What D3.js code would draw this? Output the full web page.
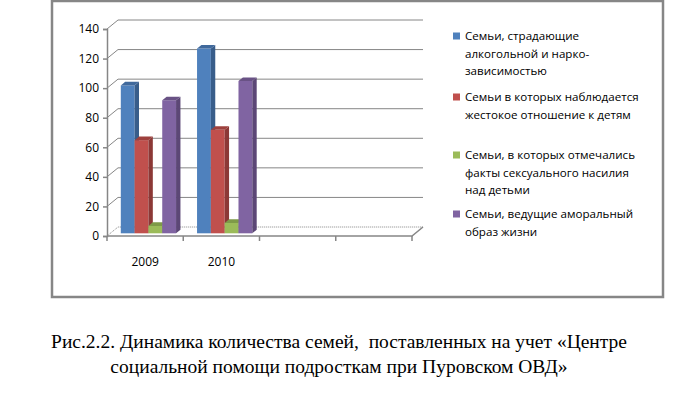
<!DOCTYPE html>
<html>
<head>
<meta charset="utf-8">
<script src="https://cdn.jsdelivr.net/npm/d3@7"></script>
<style>
  body { margin: 0; background: #fff; }
  svg { display: block; }
</style>
</head>
<body>
<svg id="chart" width="680" height="396"></svg>
<script>
// data
const categories = ['2009', '2010', '', ''];
const alcohol = [100, 125];
const cruelty = [63, 70];
const sexual = [5, 7];
const amoral = [90, 103];
const yTicks = [0, 20, 40, 60, 80, 100, 120, 140];
const seriesNames = [
  ['Семьи, страдающие', 'алкогольной и нарко-', 'зависимостью'],
  ['Семьи в которых наблюдается', 'жестокое отношение к детям'],
  ['Семьи, в которых отмечались', 'факты сексуального насилия', 'над детьми'],
  ['Семьи, ведущие аморальный', 'образ жизни']
];
const caption = [
  'Рис.2.2. Динамика количества семей,  поставленных на учет «Центре',
  'социальной помощи подросткам при Пуровском ОВД»'
];

const series = [alcohol, cruelty, sexual, amoral];
const colors = ['#4F81BD', '#C0504D', '#9BBB59', '#8064A2'];
const sideColors = ['#385D8A', '#8C3836', '#71893F', '#5C4776'];
const topColors = ['#40699C', '#9E403D', '#7E9A48', '#695285'];

const svg = d3.select('#chart');
const grid = '#868686';
const axisFont = '"Open Sans", sans-serif';

// chart frame
svg.append('rect')
  .attr('x', 52).attr('y', 1)
  .attr('width', 611).attr('height', 296)
  .attr('fill', 'none')
  .attr('stroke', grid)
  .attr('stroke-width', 2.5);

// front plane scales
const x = d3.scaleBand()
  .domain(d3.range(categories.length))
  .range([107, 412]);

const y = d3.scaleLinear()
  .domain([0, 140])
  .range([236, 29]);

const depthX = 11, depthY = -9;

// walls: gridlines bent along the left wall
const g = svg.append('g');
yTicks.forEach(v => {
  const yy = y(v);
  g.append('path')
    .attr('d', `M107,${yy}L${107 + depthX},${yy + depthY}L${412 + depthX},${yy + depthY}`)
    .attr('fill', 'none')
    .attr('stroke', grid)
    .attr('stroke-width', 1)
    .attr('stroke-dasharray', v === 0 ? '1,1' : null);
});

// floor front edge
g.append('path')
  .attr('d', `M107,${y(0)}L412,${y(0)}L${412 + depthX},${y(0) + depthY}`)
  .attr('fill', 'none')
  .attr('stroke', grid)
  .attr('stroke-width', 1.5);

// y axis
const yAxis = d3.axisLeft(y).tickValues(yTicks).tickSize(4).tickPadding(4);
const ya = svg.append('g')
  .attr('transform', 'translate(107,0)')
  .call(yAxis);
ya.select('.domain').attr('stroke', grid).attr('stroke-width', 1.5);
ya.selectAll('.tick line').attr('stroke', grid).attr('stroke-width', 1.5);
ya.selectAll('.tick text')
  .attr('font-family', axisFont)
  .attr('font-size', 12)
  .attr('fill', '#000');

// x axis
const xAxis = d3.axisBottom(x).tickSize(0).tickPadding(21)
  .tickFormat(i => categories[i]);
const xa = svg.append('g')
  .attr('transform', `translate(0,${y(0)})`)
  .call(xAxis);
xa.select('.domain').remove();
xa.selectAll('.tick text')
  .attr('font-family', axisFont)
  .attr('font-size', 12)
  .attr('fill', '#000');
xa.selectAll('.cat-tick')
  .data(d3.range(categories.length + 1))
  .enter()
  .append('line')
  .attr('x1', i => 107 + i * x.step())
  .attr('x2', i => 107 + i * x.step())
  .attr('y1', 0).attr('y2', 5)
  .attr('stroke', grid)
  .attr('stroke-width', 1.5);

// bars, set into the middle of the depth
const sub = d3.scaleBand()
  .domain(d3.range(series.length))
  .range([0, x.bandwidth()])
  .paddingOuter(0.76);
const offX = depthX * 0.3, offY = depthY * 0.3;
const dX = depthX * 0.4, dY = depthY * 0.4;
const bw = sub.bandwidth();

const bars = svg.append('g');
d3.range(alcohol.length).forEach(c => {
  series.forEach((s, k) => {
    const x0 = x(c) + sub(k) + offX;
    const yt = y(s[c]) + offY;
    const yb = y(0) + offY;
    bars.append('rect')
      .attr('x', x0).attr('y', yt)
      .attr('width', bw).attr('height', yb - yt)
      .attr('fill', colors[k]);
    bars.append('path')
      .attr('d', `M${x0 + bw},${yt}L${x0 + bw + dX},${yt + dY}L${x0 + bw + dX},${yb + dY}L${x0 + bw},${yb}Z`)
      .attr('fill', sideColors[k]);
    bars.append('path')
      .attr('d', `M${x0},${yt}L${x0 + bw},${yt}L${x0 + bw + dX},${yt + dY}L${x0 + dX},${yt + dY}Z`)
      .attr('fill', topColors[k]);
  });
});

// legend
const legendTop = [36, 97, 155, 214];
const legend = svg.append('g');
seriesNames.forEach((lines, k) => {
  legend.append('rect')
    .attr('x', 453).attr('y', legendTop[k] - 3.5)
    .attr('width', 7).attr('height', 7)
    .attr('fill', colors[k]);
  const t = legend.append('text')
    .attr('font-family', axisFont)
    .attr('font-size', 11.6)
    .attr('fill', '#000');
  lines.forEach((ln, j) => {
    t.append('tspan')
      .attr('x', 465)
      .attr('y', legendTop[k] + 4 + j * 17.5)
      .text(ln);
  });
});

// caption
svg.append('g')
  .selectAll('text')
  .data(caption)
  .enter()
  .append('text')
  .attr('x', 339)
  .attr('y', (d, i) => 348 + i * 25)
  .attr('text-anchor', 'middle')
  .attr('font-family', '"Liberation Serif", "Times New Roman", serif')
  .attr('font-size', 19.5)
  .style('white-space', 'pre')
  .attr('fill', '#000')
  .text(d => d);
</script>
</body>
</html>
